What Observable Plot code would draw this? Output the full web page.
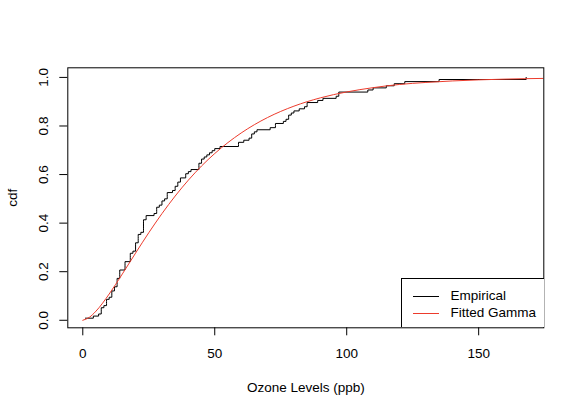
<!DOCTYPE html>
<html>
<head>
<meta charset="utf-8">
<script src="https://cdn.jsdelivr.net/npm/d3@7"></script>
<script src="https://cdn.jsdelivr.net/npm/@observablehq/plot@0.6"></script>
<style>
  body { margin: 0; background: #fff; }
  #wrap { position: relative; width: 578px; height: 412px; font-family: "Liberation Sans", Arial, sans-serif; }
  #legend { position: absolute; left: 400.5px; top: 278px; width: 142px; height: 48px; border: 1px solid #000; border-right: none; border-bottom: none; background: #fff; font-size: 13.5px; }
  .row { position: absolute; left: 0; height: 16px; line-height: 16px; }
  .sw { position: absolute; left: 11px; width: 26px; height: 0; top: 8px; }
  .lab { position: absolute; left: 49px; top: 0; white-space: nowrap; }
</style>
</head>
<body>
<div id="wrap"></div>
<script>
// Ozone readings (ppb), non-missing values
const ozone = [41,36,12,18,28,23,19,8,7,16,11,14,18,14,34,6,30,11,1,11,
  4,32,23,45,115,37,29,71,39,23,21,37,20,12,13,135,49,32,64,40,
  77,97,97,85,10,27,7,48,35,61,79,63,16,80,108,20,52,82,50,64,
  59,39,9,16,78,35,66,122,89,110,44,28,65,22,59,23,31,44,21,9,
  45,168,73,76,118,84,85,96,78,73,91,47,32,20,23,21,24,44,21,28,
  9,13,46,18,13,24,16,13,23,36,7,14,30,14,18,20];

// Fitted gamma CDF read at these ozone levels
const gammaX = [0,2.5,5,10,15,20,25,30,35,40,45,50,60,70,80,90,100,110,120,130,140,160,175];
const gammaY = [0,0.0123,0.0376,0.1081,0.1909,0.2766,0.3604,0.4392,0.5115,0.5769,0.6354,0.6867,
  0.7711,0.8348,0.8816,0.9158,0.9402,0.9578,0.9710,0.9793,0.9855,0.9930,0.9960];

const xTicks = [0, 50, 100, 150];
const yTicks = [0, 0.2, 0.4, 0.6, 0.8, 1.0];
const seriesNames = ["Empirical", "Fitted Gamma"];
const seriesColors = ["#000000", "#ec3b2c"];

const sorted = ozone.slice().sort((a, b) => a - b);
const n = sorted.length;
const ecdf = sorted.map((v, i) => ({x: v, y: (i + 1) / n}));
const gamma = gammaX.map((x, i) => ({x, y: gammaY[i]}));

const chart = Plot.plot({
  width: 578,
  height: 412,
  marginLeft: 67.3,
  marginRight: 34.7,
  marginTop: 67.3,
  marginBottom: 84.7,
  style: {fontFamily: "'Liberation Sans', Arial, sans-serif", fontSize: "13.5px", color: "#000", background: "#fff"},
  x: {domain: [-5.68, 174.68]},
  y: {domain: [-0.031, 1.0396]},
  marks: [
    Plot.line(ecdf, {x: "x", y: "y", curve: "step-after", stroke: seriesColors[0], strokeWidth: 1, clip: true}),
    Plot.line(gamma, {x: "x", y: "y", curve: "monotone-x", stroke: seriesColors[1], strokeWidth: 1, clip: true}),
    Plot.frame({stroke: "#000", strokeWidth: 1}),
    Plot.axisX(xTicks, {tickSize: 8, tickFormat: () => "", label: null, stroke: "#000"}),
    Plot.axisY(yTicks, {tickSize: 8, tickFormat: () => "", label: null, stroke: "#000"}),
    Plot.text(xTicks, {x: d => d, frameAnchor: "bottom", dy: 26, lineAnchor: "middle", text: d => String(d), fill: "#000"}),
    Plot.text(yTicks, {y: d => d, frameAnchor: "left", dx: -24, rotate: -90, textAnchor: "middle", lineAnchor: "middle", text: d => d3.format(".1f")(d), fill: "#000"}),
    Plot.text(["Ozone Levels (ppb)"], {frameAnchor: "bottom", dy: 60, lineAnchor: "middle", fill: "#000"}),
    Plot.text(["cdf"], {frameAnchor: "left", dx: -55, rotate: -90, textAnchor: "middle", lineAnchor: "middle", fill: "#000"})
  ]
});

const wrap = document.getElementById("wrap");
wrap.appendChild(chart);

const legend = document.createElement("div");
legend.id = "legend";
seriesNames.forEach((name, i) => {
  const row = document.createElement("div");
  row.className = "row";
  row.style.top = (i === 0 ? 9 : 25.5) + "px";
  row.style.width = "142px";
  const sw = document.createElement("div");
  sw.className = "sw";
  sw.style.borderTop = "1px solid " + seriesColors[i];
  const lab = document.createElement("div");
  lab.className = "lab";
  lab.textContent = name;
  row.appendChild(sw);
  row.appendChild(lab);
  legend.appendChild(row);
});
wrap.appendChild(legend);
</script>
</body>
</html>
